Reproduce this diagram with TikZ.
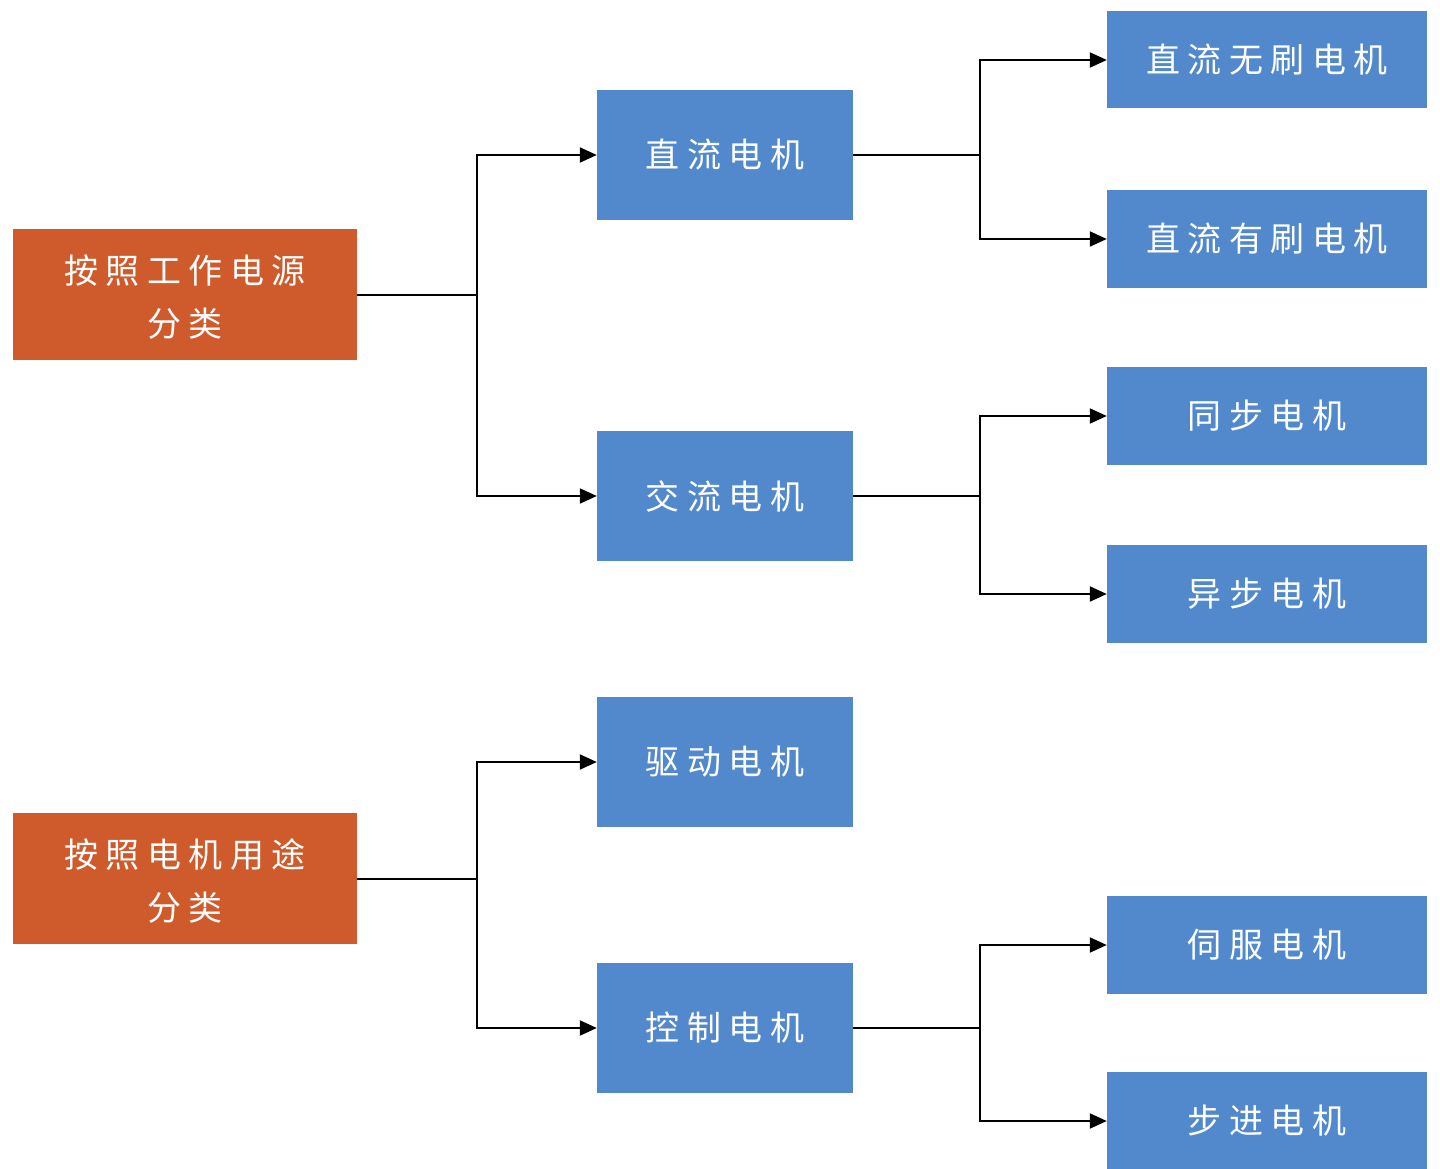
\documentclass[tikz,border=0pt]{standalone}
\usepackage{fontspec}
\newfontfamily\cjk[LetterSpace=22]{Noto Sans CJK SC}
\usetikzlibrary{arrows.meta}
\definecolor{orangebox}{HTML}{CF5A2B}
\definecolor{bluebox}{HTML}{5289CC}
\tikzset{
  catbox/.style={fill=orangebox, draw=none, text=white, font=\cjk\fontsize{34}{53}\selectfont, align=center, inner sep=0pt},
  midbox/.style={fill=bluebox, draw=none, text=white, font=\cjk\fontsize{34}{40}\selectfont, inner sep=0pt},
  leafbox/.style={fill=bluebox, draw=none, text=white, font=\cjk\fontsize{34}{40}\selectfont, inner sep=0pt},
  conn/.style={line width=2pt, black},
  arr/.style={conn, -{Triangle[length=17pt,width=15pt]}}
}
\begin{document}
\begin{tikzpicture}[x=1pt,y=-1pt]
\useasboundingbox[fill=white] (0,0) rectangle (1440,1169);
% category boxes
\path[fill=orangebox] (13,229) rectangle (357,360);
\node[catbox] (c1) at (185,297) {按照工作电源\\分类};
\path[fill=orangebox] (13,813) rectangle (357,944);
\node[catbox] (c2) at (185,881) {按照电机用途\\分类};
% mid
\node[midbox, minimum width=256pt, minimum height=130pt] (dc) at (725,155) {直流电机};
\node[midbox, minimum width=256pt, minimum height=130pt] (ac) at (725,496) {交流电机};
\node[midbox, minimum width=256pt, minimum height=130pt] (drv) at (725,762) {驱动电机};
\node[midbox, minimum width=256pt, minimum height=130pt] (ctl) at (725,1028) {控制电机};
% leaves
\node[leafbox, minimum width=320pt, minimum height=97pt] (bl) at (1267,60) {直流无刷电机};
\node[leafbox, minimum width=320pt, minimum height=98pt] (br) at (1267,239) {直流有刷电机};
\node[leafbox, minimum width=320pt, minimum height=98pt] (sy) at (1267,416) {同步电机};
\node[leafbox, minimum width=320pt, minimum height=98pt] (as) at (1267,594) {异步电机};
\node[leafbox, minimum width=320pt, minimum height=98pt] (sv) at (1267,945) {伺服电机};
\node[leafbox, minimum width=320pt, minimum height=98pt] (st) at (1267,1121) {步进电机};
% connector coordinates
\coordinate (c1e) at (357,295);
\coordinate (c2e) at (357,879);
\coordinate (j1) at (477,295);
\coordinate (j2) at (477,879);
\coordinate (j3) at (980,155);
\coordinate (j4) at (980,496);
\coordinate (j5) at (980,1028);
% connectors
\draw[conn] (c1e) -- (j1);
\draw[arr] (j1) |- (dc.west);
\draw[arr] (j1) |- (ac.west);
\draw[conn] (c2e) -- (j2);
\draw[arr] (j2) |- (drv.west);
\draw[arr] (j2) |- (ctl.west);
\draw[conn] (dc.east) -- (j3);
\draw[arr] (j3) |- (bl.west);
\draw[arr] (j3) |- (br.west);
\draw[conn] (ac.east) -- (j4);
\draw[arr] (j4) |- (sy.west);
\draw[arr] (j4) |- (as.west);
\draw[conn] (ctl.east) -- (j5);
\draw[arr] (j5) |- (sv.west);
\draw[arr] (j5) |- (st.west);
\end{tikzpicture}
\end{document}
